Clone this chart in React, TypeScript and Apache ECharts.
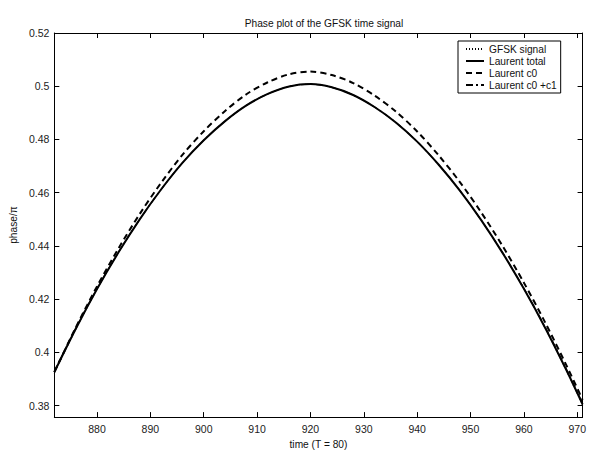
import React, { useEffect, useRef } from "react";
import * as echarts from "echarts";

const timeX = [872, 876, 880, 884, 888, 892, 896, 900, 904, 908, 912, 916, 920, 924, 928, 932, 936, 940, 944, 948, 952, 956, 960, 964, 968, 971];

const gfskSignal = [0.3922, 0.4085, 0.4236, 0.4375, 0.45, 0.4612, 0.4712, 0.4797, 0.4869, 0.4928, 0.4971, 0.4999, 0.5008, 0.4996, 0.4967, 0.4922, 0.4864, 0.4792, 0.4706, 0.4608, 0.4497, 0.4374, 0.4238, 0.409, 0.3929, 0.3801];
const laurentTotal = [0.3926, 0.4088, 0.4238, 0.4375, 0.45, 0.4612, 0.4712, 0.4797, 0.4869, 0.4928, 0.4971, 0.4999, 0.5008, 0.4996, 0.4967, 0.4922, 0.4864, 0.4792, 0.4706, 0.4608, 0.4497, 0.4374, 0.4239, 0.4092, 0.3932, 0.3805];
const laurentC0 = [0.3926, 0.4093, 0.4248, 0.439, 0.452, 0.4637, 0.4742, 0.4831, 0.4907, 0.497, 0.5015, 0.5045, 0.5055, 0.5042, 0.5012, 0.4965, 0.4905, 0.483, 0.4741, 0.464, 0.4526, 0.44, 0.4262, 0.4112, 0.395, 0.3822];
const laurentC0C1 = [0.393, 0.4091, 0.424, 0.4376, 0.45, 0.4612, 0.4712, 0.4797, 0.4869, 0.4928, 0.4971, 0.4999, 0.5008, 0.4996, 0.4967, 0.4922, 0.4864, 0.4792, 0.4706, 0.4608, 0.4497, 0.4375, 0.4241, 0.4095, 0.3936, 0.3809];

const seriesNames = ["GFSK signal", "Laurent total", "Laurent c0", "Laurent c0 +c1"];
const titleText = "Phase plot of the GFSK time signal";
const xAxisName = "time (T = 80)";
const yAxisName = "phase/\u03c0";

const FONT = "'Liberation Sans', Arial, Helvetica, sans-serif";

export default function App() {
  const ref = useRef<HTMLDivElement>(null);
  useEffect(() => {
    const chart = echarts.init(ref.current as HTMLDivElement, null, { renderer: "svg" });
    const pair = (ys: number[]) => timeX.map((x, i) => [x, ys[i]]);
    const xFmt = (v: number) => (Math.abs(v % 10) < 1e-6 ? String(v) : "");
    const yFmt = (v: number) => {
      const h = Math.round(v * 100);
      return Math.abs(v * 100 - h) < 1e-6 && h % 2 === 0 ? String(+(h / 100).toFixed(2)) : "";
    };
    const axisLine = { show: true, lineStyle: { color: "#000", width: 1 } };
    const axisTick = { show: true, inside: true, length: 5, lineStyle: { color: "#000", width: 1 } };
    const xCommon = { type: "value", min: 872, max: 971, splitNumber: 10, splitLine: { show: false }, axisLine, axisTick };
    const yCommon = { type: "value", min: 0.3757, max: 0.52, splitNumber: 7, splitLine: { show: false }, axisLine, axisTick };
    const lineSeries = (name: string, ys: number[], type: any, width: number) => ({
      name,
      type: "line",
      data: pair(ys),
      showSymbol: false,
      symbol: "none",
      smooth: 0.3,
      lineStyle: { color: "#000", width, type },
      itemStyle: { color: "#000" },
    });
    chart.setOption({
      animation: false,
      backgroundColor: "#fff",
      textStyle: { fontFamily: FONT },
      title: {
        text: titleText,
        left: 319,
        top: 13,
        textAlign: "center",
        textStyle: { fontSize: 10.2, fontWeight: "normal", color: "#111", fontFamily: FONT },
      },
      grid: { left: 53, right: 6, top: 33, bottom: 30 },
      legend: {
        data: seriesNames,
        orient: "vertical",
        left: 458,
        top: 41,
        padding: [3, 4, 3, 7],
        itemGap: 2,
        itemWidth: 18,
        itemHeight: 11,
        backgroundColor: "#fff",
        borderColor: "#000",
        borderWidth: 1,
        borderRadius: 0,
        itemStyle: { opacity: 0, color: "transparent", borderWidth: 0 },
        textStyle: { fontSize: 10.2, color: "#111", fontFamily: FONT },
      },
      xAxis: [
        {
          ...xCommon,
          position: "bottom",
          name: xAxisName,
          nameLocation: "middle",
          nameGap: 17,
          nameTextStyle: { fontSize: 10.2, color: "#111", fontFamily: FONT },
          axisLabel: { formatter: xFmt, fontSize: 10.5, color: "#222", margin: 6, fontFamily: FONT },
        },
        { ...xCommon, position: "top", axisLabel: { show: false } },
      ],
      yAxis: [
        {
          ...yCommon,
          position: "left",
          name: yAxisName,
          nameLocation: "middle",
          nameGap: 31,
          nameTextStyle: { fontSize: 10.2, color: "#111", fontFamily: FONT },
          axisLabel: { formatter: yFmt, fontSize: 10.5, color: "#222", margin: 5, fontFamily: FONT },
        },
        { ...yCommon, position: "right", axisLabel: { show: false } },
      ],
      series: [
        lineSeries(seriesNames[0], gfskSignal, [1, 2], 1),
        lineSeries(seriesNames[1], laurentTotal, "solid", 2),
        lineSeries(seriesNames[2], laurentC0, [6, 4], 2),
        lineSeries(seriesNames[3], laurentC0C1, [7, 3, 2, 3], 1.2),
      ],
    });
    return () => chart.dispose();
  }, []);
  return (
    <div
      ref={ref}
      style={{ position: "absolute", left: 0, top: 0, width: 589, height: 454, background: "#fff" }}
    />
  );
}
